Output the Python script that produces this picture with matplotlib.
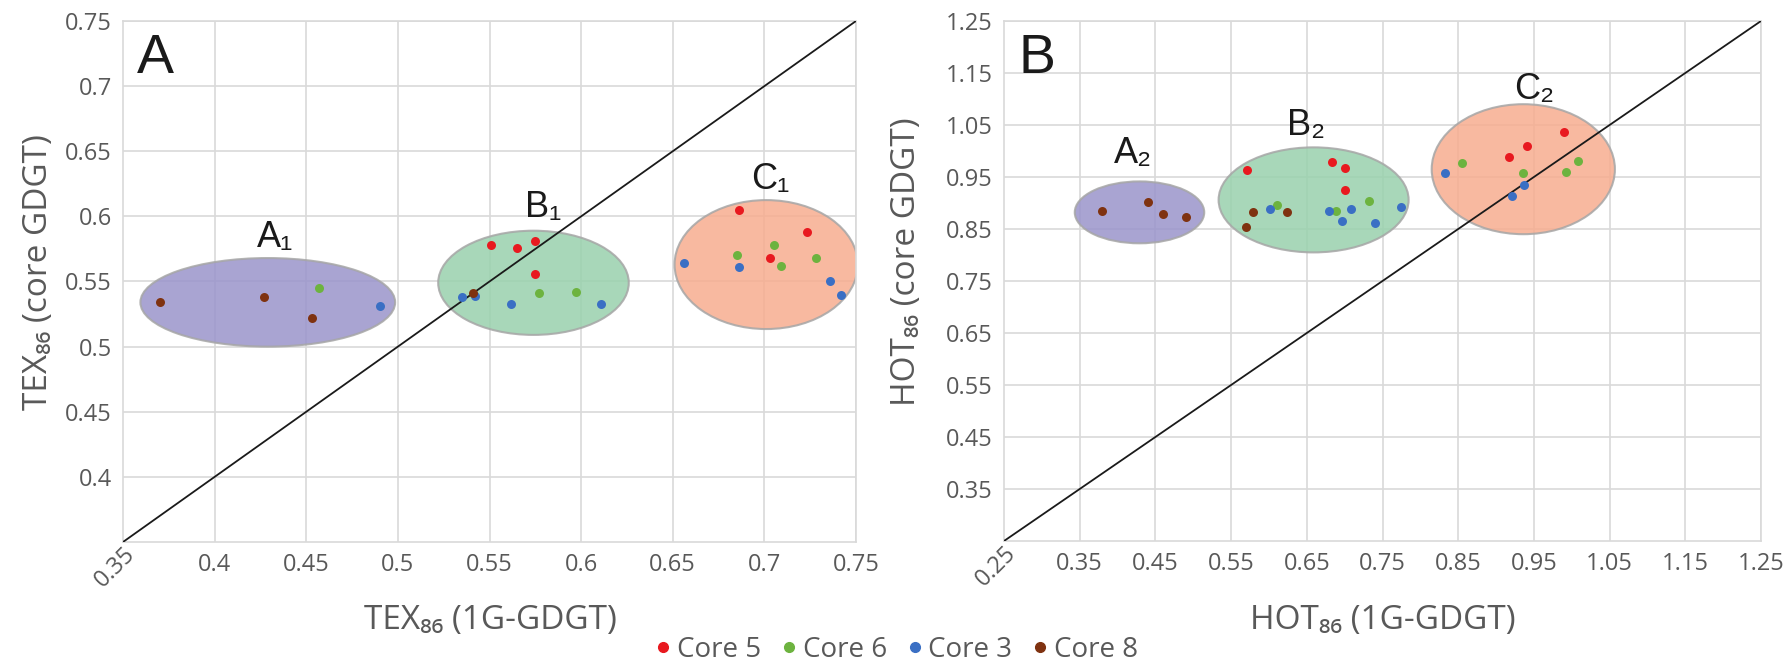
import matplotlib
matplotlib.use("Agg")
import matplotlib.pyplot as plt
from matplotlib.patches import Ellipse
from matplotlib.lines import Line2D

plt.rcParams['font.family'] = ['Open Sans', 'DejaVu Sans']

# farben der kerne
core_names = ["Core 5", "Core 6", "Core 3", "Core 8"]
core_colors = ["#E8191F", "#6DB33F", "#3A6FC4", "#7F3210"]

# Panel A: TEX86 (1G-GDGT) gegen TEX86 (core GDGT)
tex_c5_x = [0.551, 0.565, 0.575, 0.575, 0.686, 0.723, 0.703]
tex_c5_y = [0.578, 0.576, 0.581, 0.556, 0.605, 0.588, 0.568]
tex_c6_x = [0.457, 0.577, 0.597, 0.705, 0.685, 0.709, 0.728]
tex_c6_y = [0.545, 0.541, 0.542, 0.578, 0.570, 0.562, 0.568]
tex_c3_x = [0.490, 0.535, 0.542, 0.562, 0.611, 0.656, 0.686, 0.736, 0.742]
tex_c3_y = [0.531, 0.538, 0.539, 0.533, 0.533, 0.564, 0.561, 0.550, 0.540]
tex_c8_x = [0.370, 0.427, 0.453, 0.541]
tex_c8_y = [0.534, 0.538, 0.522, 0.541]

# Panel B: HOT86
hot_c5_x = [0.571, 0.683, 0.700, 0.700, 0.990, 0.941, 0.917]
hot_c5_y = [0.963, 0.978, 0.967, 0.925, 1.037, 1.010, 0.989]
hot_c6_x = [0.610, 0.689, 0.732, 0.855, 0.935, 0.992, 1.008]
hot_c6_y = [0.896, 0.885, 0.903, 0.976, 0.957, 0.960, 0.981]
hot_c3_x = [0.601, 0.679, 0.708, 0.697, 0.740, 0.775, 0.833, 0.937, 0.921]
hot_c3_y = [0.888, 0.885, 0.888, 0.866, 0.861, 0.893, 0.957, 0.935, 0.914]
hot_c8_x = [0.379, 0.440, 0.460, 0.491, 0.579, 0.570, 0.624]
hot_c8_y = [0.885, 0.901, 0.879, 0.874, 0.882, 0.853, 0.882]

# gruppen (mitte x, mitte y, breite, hoehe)
tex_groups = ["A₁", "B₁", "C₁"]
tex_ell = [(0.429, 0.534, 0.139, 0.068),
           (0.574, 0.549, 0.104, 0.080),
           (0.701, 0.563, 0.100, 0.099)]
tex_lab = [(0.433, 0.584), (0.579, 0.607), (0.703, 0.628)]

hot_groups = ["A₂", "B₂", "C₂"]
hot_ell = [(0.429, 0.882, 0.171, 0.119),
           (0.659, 0.906, 0.251, 0.202),
           (0.936, 0.965, 0.242, 0.250)]
hot_lab = [(0.420, 0.996), (0.649, 1.050), (0.950, 1.119)]

ell_colors = ["#9A94CB", "#99D1AD", "#F7AD8F"]

W, H = 1785, 662
fig = plt.figure(figsize=(W / 100, H / 100), dpi=100)


def px_axes(l, t, r, b):
    return fig.add_axes([l / W, 1 - b / H, (r - l) / W, (b - t) / H])


def draw_panel(ax, lo, hi, step, series, ells, labs, names, letter):
    ax.set_xlim(lo, hi)
    ax.set_ylim(lo, hi)
    n = int(round((hi - lo) / step))
    ticks = [round(lo + step * i, 2) for i in range(1, n + 1)]
    ax.set_xticks(ticks)
    ax.set_yticks(ticks)
    ax.set_xticklabels(["%g" % t for t in ticks])
    ax.set_yticklabels(["%g" % t for t in ticks])
    ax.tick_params(length=0, labelsize=17, colors="#595959", pad=8)
    ax.grid(True, color="#D9D9D9", lw=1.2)
    ax.set_axisbelow(True)
    for s in ax.spines.values():
        s.set_color("#D9D9D9")
        s.set_linewidth(1.2)
    # ecke beschriftung, gedreht
    ax.text(lo, lo, "%g" % lo, rotation=45, ha="right", va="top",
            fontsize=17, color="#595959", transform=ax.transData,
            rotation_mode="anchor")
    for (cx, cy, w, h), c in zip(ells, ell_colors):
        ax.add_patch(Ellipse((cx, cy), w, h, facecolor=c, edgecolor="#A6A6A6",
                             lw=1.5, alpha=0.85, zorder=2))
    ax.plot([lo, hi], [lo, hi], color="#1A1A1A", lw=1.3, zorder=3)
    for (xs, ys), c in zip(series, core_colors):
        ax.scatter(xs, ys, s=42, color=c, zorder=4, linewidths=0)
    for (lx, ly), t in zip(labs, names):
        ax.text(lx, ly, t, ha="center", va="center", fontsize=26,
                color="#1A1A1A", family=["Liberation Sans", "DejaVu Sans"])
    ax.text(0.019, 0.90, letter, transform=ax.transAxes, fontsize=40,
            color="#1A1A1A", va="baseline", ha="left",
            family=["Liberation Sans", "DejaVu Sans"])


axA = px_axes(123, 21, 856, 542)
draw_panel(axA, 0.35, 0.75, 0.05,
           [(tex_c5_x, tex_c5_y), (tex_c6_x, tex_c6_y),
            (tex_c3_x, tex_c3_y), (tex_c8_x, tex_c8_y)],
           tex_ell, tex_lab, tex_groups, "A")

axB = px_axes(1004, 21, 1761, 541)
draw_panel(axB, 0.25, 1.25, 0.1,
           [(hot_c5_x, hot_c5_y), (hot_c6_x, hot_c6_y),
            (hot_c3_x, hot_c3_y), (hot_c8_x, hot_c8_y)],
           hot_ell, hot_lab, hot_groups, "B")

# achsentitel
fig.text(490 / W, 1 - 620 / H, "TEX₈₆ (1G-GDGT)", ha="center", va="center",
         fontsize=24, color="#595959")
fig.text(1383 / W, 1 - 620 / H, "HOT₈₆ (1G-GDGT)", ha="center", va="center",
         fontsize=24, color="#595959")
fig.text(38 / W, 1 - 272 / H, "TEX₈₆ (core GDGT)", ha="center", va="center",
         rotation=90, fontsize=24, color="#595959")
fig.text(906 / W, 1 - 262 / H, "HOT₈₆ (core GDGT)", ha="center", va="center",
         rotation=90, fontsize=24, color="#595959")

# legende
handles = [Line2D([], [], marker="o", ls="", color=c, markersize=7) for c in core_colors]
leg = fig.legend(handles, core_names, loc="center", bbox_to_anchor=(895 / W, 1 - 650 / H),
                 ncol=4, frameon=False, fontsize=20, handletextpad=0.1,
                 columnspacing=0.6, handlelength=0.8, borderpad=0)
for t in leg.get_texts():
    t.set_color("#595959")

fig.savefig("out.png", dpi=100)
